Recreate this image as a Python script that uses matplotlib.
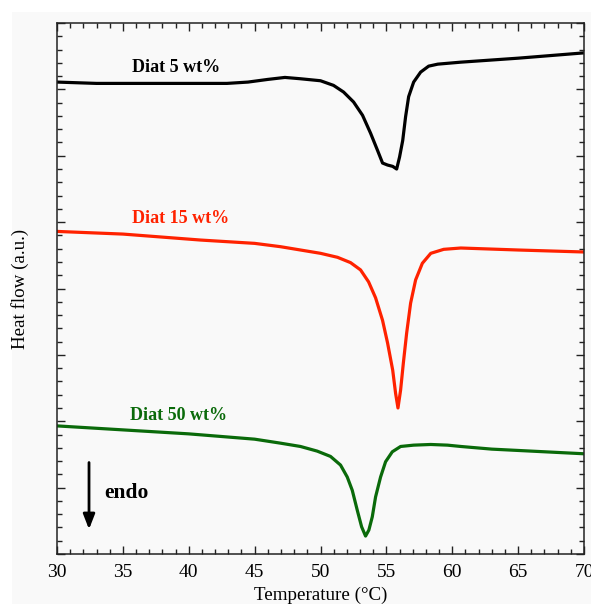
import numpy as np
import matplotlib
matplotlib.use("Agg")
import matplotlib.pyplot as plt
from matplotlib.patches import Rectangle
from matplotlib.ticker import MultipleLocator

# DSC heat flow curves (arbitrary units)
temp_5 = [30, 33, 36, 40, 42.9, 44.5, 46, 47.3, 48.48, 50.0, 50.99, 51.75, 52.51,
          53.19, 53.8, 54.33, 54.71, 55.09, 55.48, 55.78, 56.0, 56.24, 56.46, 56.69,
          57.07, 57.6, 58.21, 58.9, 60.65, 65, 70]
flow_5 = [7.11, 7.09, 7.09, 7.09, 7.09, 7.11, 7.15, 7.18, 7.16, 7.13, 7.06, 6.96,
          6.81, 6.61, 6.34, 6.08, 5.89, 5.86, 5.84, 5.80, 5.98, 6.23, 6.59, 6.89,
          7.11, 7.26, 7.35, 7.38, 7.41, 7.47, 7.55]

temp_15 = [30, 35, 40.9, 45, 46.96, 48.48, 50.0, 51.29, 52.28, 53.04, 53.65, 54.18,
           54.71, 55.09, 55.48, 55.7, 55.88, 56.08, 56.29, 56.54, 56.84, 57.22, 57.73,
           58.37, 59.35, 60.65, 65, 70]
flow_15 = [4.86, 4.82, 4.73, 4.68, 4.63, 4.58, 4.53, 4.47, 4.39, 4.28, 4.10, 3.86,
           3.52, 3.18, 2.77, 2.42, 2.20, 2.47, 2.88, 3.33, 3.78, 4.13, 4.38, 4.53,
           4.59, 4.61, 4.58, 4.55]

temp_50 = [30, 35, 40, 45, 46.96, 48.48, 49.75, 50.76, 51.52, 52.03, 52.41, 52.79,
           53.12, 53.42, 53.67, 53.93, 54.18, 54.56, 54.94, 55.45, 56.08, 57.07, 58.37,
           59.64, 60.65, 63, 66, 70]
flow_50 = [1.93, 1.87, 1.81, 1.73, 1.67, 1.62, 1.55, 1.47, 1.34, 1.16, 0.96, 0.66,
           0.41, 0.27, 0.36, 0.56, 0.86, 1.16, 1.39, 1.54, 1.62, 1.64, 1.65, 1.64,
           1.62, 1.58, 1.55, 1.51]

labels = ["Diat 5 wt%", "Diat 15 wt%", "Diat 50 wt%"]
colors = ["black", "#ff2200", "#0a6a0a"]

plt.rcParams['font.family'] = ['Liberation Serif', 'DejaVu Serif']

fig = plt.figure(figsize=(5.91, 6.04), dpi=100, facecolor="white")
# light grey panel behind everything (white strip top and left)
fig.patches.append(Rectangle((12 / 591, 0), 1, 1 - 12 / 604, transform=fig.transFigure,
                             facecolor="#f9f9f9", edgecolor="none", zorder=-10))

ax = fig.add_axes([57 / 591, 50 / 604, 527 / 591, 531 / 604])
ax.set_facecolor("#f9f9f9")

ax.plot(temp_5, flow_5, color=colors[0], lw=2.3, solid_joinstyle="round")
ax.plot(temp_15, flow_15, color=colors[1], lw=2.3, solid_joinstyle="round")
ax.plot(temp_50, flow_50, color=colors[2], lw=2.3, solid_joinstyle="round")

ax.text(39.05, 7.33, labels[0], color=colors[0], fontsize=13, fontweight="bold",
        ha="center", va="center")
ax.text(39.35, 5.06, labels[1], color=colors[1], fontsize=13, fontweight="bold",
        ha="center", va="center")
ax.text(39.2, 2.09, labels[2], color=colors[2], fontsize=13, fontweight="bold",
        ha="center", va="center")

# endo arrow
ax.annotate("", xy=(32.43, 0.33), xytext=(32.43, 1.42),
            arrowprops=dict(arrowstyle="-|>,head_length=0.9,head_width=0.35",
                            color="black", lw=2))
ax.text(33.55, 0.92, "endo", fontsize=15.5, fontweight="bold", va="center", ha="left")

ax.set_xlim(30, 70)
ax.set_ylim(0, 8)
ax.xaxis.set_major_locator(MultipleLocator(5))
ax.xaxis.set_minor_locator(MultipleLocator(1))
ax.yaxis.set_major_locator(MultipleLocator(1))
ax.yaxis.set_minor_locator(MultipleLocator(0.2))
ax.tick_params(which="both", direction="in", top=True, right=True, color="#222222")
ax.tick_params(which="major", length=6, width=1)
ax.tick_params(which="minor", length=3.5, width=1)
ax.tick_params(axis="x", labelsize=14, pad=7)
ax.set_yticklabels([])
for s in ax.spines.values():
    s.set_linewidth(1.1)
    s.set_color("#222222")

ax.set_xlabel("Temperature (°C)", fontsize=13.7, labelpad=4)
ax.set_ylabel("Heat flow (a.u.)", fontsize=13.7, labelpad=17)

fig.savefig("out.png", dpi=100, facecolor=fig.get_facecolor())
